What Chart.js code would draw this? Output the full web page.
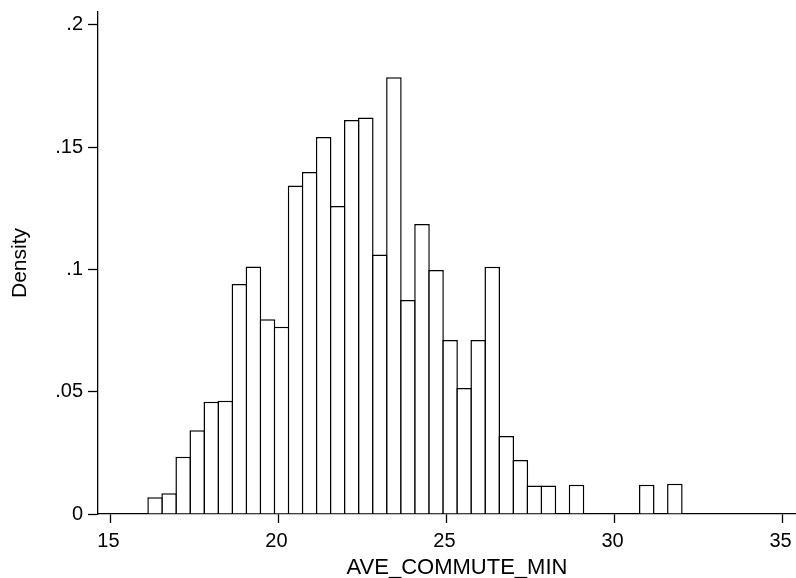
<!DOCTYPE html>
<html>
<head>
<meta charset="utf-8">
<title>AVE_COMMUTE_MIN histogram</title>
<script src="https://cdn.jsdelivr.net/npm/chart.js@4/dist/chart.umd.min.js"></script>
<style>
  html, body { margin: 0; padding: 0; background: #fff; }
  #wrap { width: 796px; height: 578px; }
</style>
</head>
<body>
<div id="wrap"><canvas id="hist"></canvas></div>
<script>
// Histogram of AVE_COMMUTE_MIN (density scale)
const binStart = 16.12
const binWidth = 0.418
const density = [
  0.0068, 0.0085, 0.0234, 0.0342, 0.0459, 0.0463, 0.0941, 0.1012, 0.0796, 0.0766,
  0.1343, 0.1399, 0.1542, 0.1260, 0.1611, 0.1622, 0.1061, 0.1786, 0.0875, 0.1186,
  0.0998, 0.0712, 0.0515, 0.0712, 0.1011, 0.0319, 0.0221, 0.0117, 0.0117, 0,
  0.0120, 0, 0, 0, 0, 0.0120, 0, 0.0124,
]
const xTicks = [15, 20, 25, 30, 35]
const yTicks = [0, 0.05, 0.1, 0.15, 0.2]
const xTitle = "AVE_COMMUTE_MIN"
const yTitle = "Density"

const font = "'Liberation Sans', Arial, Helvetica, sans-serif"
const lineW = 1.5

// each bar sits at the middle of its bin
const points = density.map((d, i) => ({ x: binStart + binWidth * (i + 0.5), y: d }))

// x title is centred a bit right of the axis middle in the original
const xTitlePlugin = {
  id: "xTitle",
  afterDraw(chart) {
    const ctx = chart.ctx
    ctx.save()
    ctx.fillStyle = "#000"
    ctx.font = "22px " + font
    ctx.textAlign = "center"
    ctx.textBaseline = "alphabetic"
    ctx.fillText(xTitle, 457, 574)
    ctx.restore()
  },
}

new Chart(document.getElementById("hist"), {
  type: "bar",
  data: {
    datasets: [
      {
        label: yTitle,
        data: points,
        backgroundColor: "#fff",
        borderColor: "#000",
        borderWidth: lineW,
        // widen bars by one border so neighbours share a single edge line
        barPercentage: 1.107,
        categoryPercentage: 1,
      },
    ],
  },
  options: {
    responsive: true,
    maintainAspectRatio: false,
    animation: false,
    layout: { padding: { top: 12, left: 0, right: 0, bottom: 0 } },
    plugins: {
      legend: { display: false },
      tooltip: { enabled: false },
    },
    scales: {
      x: {
        type: "linear",
        offset: false,
        min: 14.63,
        max: 35.4,
        afterBuildTicks: (scale) => {
          scale.ticks = xTicks.map((v) => ({ value: v }))
        },
        afterFit: (scale) => {
          scale.height = 64
          // axis runs right to the canvas edge, labels fit anyway
          scale.paddingLeft = 0
          scale.paddingRight = 0
        },
        grid: {
          offset: false,
          drawOnChartArea: false,
          drawTicks: true,
          tickLength: 9,
          tickWidth: 1.3,
          tickColor: "#000",
        },
        border: { display: true, color: "#000", width: 1.3 },
        ticks: {
          color: "#000",
          font: { family: font, size: 20 },
          padding: 6,
          labelOffset: -2,
          maxRotation: 0,
          autoSkip: false,
        },
      },
      y: {
        min: 0,
        max: 0.2053,
        afterBuildTicks: (scale) => {
          scale.ticks = yTicks.map((v) => ({ value: v }))
        },
        afterFit: (scale) => {
          scale.width = 98
          scale.paddingTop = 0
          scale.paddingBottom = 0
        },
        grid: {
          drawOnChartArea: false,
          drawTicks: true,
          tickLength: 10,
          tickWidth: 1.3,
          tickColor: "#000",
        },
        border: { display: true, color: "#000", width: 1.3 },
        ticks: {
          color: "#000",
          font: { family: font, size: 20 },
          padding: 5,
          callback: (v) => (v === 0 ? "0" : String(v).replace(/^0/, "")),
        },
        title: {
          display: true,
          text: yTitle,
          color: "#000",
          font: { family: font, size: 21 },
          padding: { top: 8, bottom: 0 },
        },
      },
    },
  },
  plugins: [xTitlePlugin],
})
</script>
</body>
</html>
